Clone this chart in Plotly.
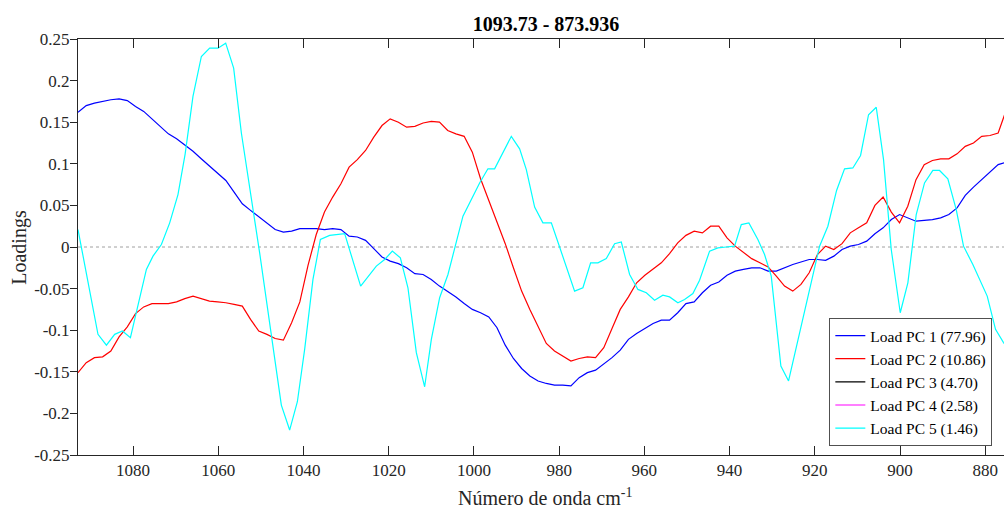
import numpy as np
import plotly.graph_objects as go

# Wavenumber axis of the loading vectors (cm^-1), high to low
wn_start = 1092.91
wn_step = 1.928
n_points = 114
wavenumber = np.round(wn_start - wn_step * np.arange(n_points), 2)

load_pc1 = [
    0.162, 0.170, 0.173, 0.175, 0.177, 0.178, 0.176, 0.169, 0.163, 0.154,
    0.145, 0.136, 0.130, 0.123, 0.115, 0.106, 0.097, 0.089, 0.080, 0.066,
    0.052, 0.044, 0.036, 0.029, 0.021, 0.018, 0.019, 0.022, 0.022, 0.022,
    0.021, 0.022, 0.021, 0.013, 0.012, 0.008, -0.002, -0.012, -0.017, -0.020,
    -0.025, -0.032, -0.033, -0.039, -0.047, -0.053, -0.060, -0.068, -0.075, -0.079,
    -0.084, -0.097, -0.118, -0.134, -0.146, -0.155, -0.161, -0.164, -0.166, -0.166,
    -0.167, -0.157, -0.151, -0.148, -0.141, -0.133, -0.124, -0.111, -0.104, -0.098,
    -0.092, -0.088, -0.088, -0.079, -0.068, -0.066, -0.055, -0.046, -0.042, -0.034,
    -0.029, -0.027, -0.025, -0.025, -0.029, -0.029, -0.025, -0.021, -0.018, -0.015,
    -0.015, -0.016, -0.011, -0.003, 0.001, 0.003, 0.007, 0.016, 0.023, 0.033,
    0.039, 0.035, 0.031, 0.032, 0.033, 0.035, 0.039, 0.047, 0.062, 0.072,
    0.081, 0.090, 0.099, 0.102,
]

load_pc2 = [
    -0.151, -0.139, -0.133, -0.132, -0.125, -0.108, -0.096, -0.080, -0.072, -0.068,
    -0.068, -0.068, -0.066, -0.062, -0.059, -0.062, -0.065, -0.066, -0.067, -0.069,
    -0.071, -0.087, -0.101, -0.105, -0.110, -0.112, -0.091, -0.066, -0.022, 0.015,
    0.042, 0.060, 0.076, 0.096, 0.105, 0.116, 0.132, 0.146, 0.154, 0.150,
    0.144, 0.145, 0.149, 0.151, 0.150, 0.140, 0.136, 0.133, 0.114, 0.082,
    0.056, 0.029, 0.004, -0.025, -0.053, -0.075, -0.096, -0.116, -0.125, -0.131,
    -0.137, -0.134, -0.132, -0.133, -0.121, -0.098, -0.075, -0.060, -0.043, -0.034,
    -0.026, -0.019, -0.008, 0.005, 0.014, 0.019, 0.017, 0.025, 0.025, 0.011,
    0.001, -0.007, -0.014, -0.019, -0.024, -0.035, -0.047, -0.053, -0.045, -0.031,
    -0.009, 0.001, -0.003, 0.004, 0.017, 0.023, 0.029, 0.050, 0.060, 0.042,
    0.029, 0.049, 0.081, 0.099, 0.104, 0.106, 0.106, 0.112, 0.121, 0.125,
    0.133, 0.134, 0.137, 0.165,
]

# PC 3 and PC 4 carry no drawn values in this window
load_pc3 = [None]
load_pc4 = [None]

# PC 5 is sharper: its vertices are listed with their own wavenumbers
wn_pc5 = [
    1092.91, 1088.22, 1086.24, 1084.30, 1082.49, 1080.61, 1076.86, 1075.31, 1073.34, 1071.39,
    1069.45, 1067.76, 1065.93, 1063.96, 1062.01, 1060.06, 1058.25, 1056.38, 1054.57, 1052.62,
    1050.28, 1047.70, 1045.19, 1043.24, 1041.43, 1039.72, 1037.77, 1036.03, 1033.85, 1030.33,
    1026.58, 1022.90, 1020.95, 1019.14, 1017.26, 1015.48, 1013.51, 1011.56, 1009.99, 1008.04,
    1006.09, 1002.57, 1000.53, 998.66, 996.71, 995.14, 991.22, 989.27, 987.70, 985.75,
    983.81, 981.83, 979.89, 976.37, 974.42, 972.61, 970.90, 968.93, 966.98, 965.41,
    963.46, 961.51, 959.54, 957.60, 955.65, 954.08, 952.13, 950.56, 948.61, 947.04,
    944.69, 942.74, 940.77, 938.83, 937.25, 935.47, 933.36, 931.79, 930.22, 927.96,
    926.16, 924.21, 921.86, 918.88, 916.93, 914.89, 913.02, 911.07, 909.26, 907.39,
    905.58, 903.87, 902.06, 899.95, 898.16, 896.20, 894.25, 892.30, 890.73, 888.78,
    886.81, 885.10, 882.91, 880.94, 879.54, 877.59, 875.71, 874.07,
]
load_pc5 = [
    0.021, -0.105, -0.118, -0.105, -0.101, -0.109, -0.027, -0.011, 0.003, 0.029,
    0.063, 0.112, 0.181, 0.229, 0.239, 0.239, 0.245, 0.215, 0.137, 0.073,
    -0.007, -0.100, -0.190, -0.220, -0.186, -0.123, -0.039, 0.009, 0.014, 0.016,
    -0.047, -0.023, -0.015, -0.005, -0.013, -0.049, -0.127, -0.168, -0.111, -0.061,
    -0.033, 0.037, 0.058, 0.077, 0.094, 0.094, 0.133, 0.118, 0.093, 0.048,
    0.029, 0.029, 0.000, -0.053, -0.049, -0.019, -0.019, -0.014, 0.004, 0.006,
    -0.033, -0.051, -0.055, -0.064, -0.058, -0.060, -0.067, -0.063, -0.056, -0.040,
    -0.005, -0.001, 0.000, 0.001, 0.027, 0.029, 0.009, -0.009, -0.035, -0.143,
    -0.161, -0.117, -0.065, 0.001, 0.025, 0.068, 0.094, 0.095, 0.110, 0.159,
    0.168, 0.105, -0.003, -0.079, -0.043, 0.039, 0.077, 0.092, 0.092, 0.082,
    0.045, 0.001, -0.021, -0.043, -0.059, -0.099, -0.115, -0.125,
]

legend_names = [
    "Load PC 1 (77.96)",
    "Load PC 2 (10.86)",
    "Load PC 3 (4.70)",
    "Load PC 4 (2.58)",
    "Load PC 5 (1.46)",
]
line_colors = ["#0000ff", "#ff0000", "#000000", "#ff00ff", "#00ffff"]

y_ticks = [-0.25, -0.2, -0.15, -0.1, -0.05, 0, 0.05, 0.1, 0.15, 0.2, 0.25]
y_ticktext = ["-0.25", "-0.2", "-0.15", "-0.1", "-0.05", "0",
              "0.05", "0.1", "0.15", "0.2", "0.25"]
x_ticks = [1080, 1060, 1040, 1020, 1000, 980, 960, 940, 920, 900, 880]

FONT = "Liberation Serif, Times New Roman, serif"
AXIS_COLOR = "#262626"

series = [
    (list(wavenumber), load_pc1),
    (list(wavenumber), load_pc2),
    ([wavenumber[0]], load_pc3),
    ([wavenumber[0]], load_pc4),
    (wn_pc5, load_pc5),
]

fig = go.Figure()
for (xs, ys), name, color in zip(series, legend_names, line_colors):
    fig.add_trace(go.Scatter(
        x=xs, y=ys, mode="lines", name=name, showlegend=True,
        line=dict(color=color, width=1.2),
    ))

# dotted zero reference
fig.add_hline(y=0, line=dict(color="#a0a0a0", width=1, dash="dot"), layer="below")

fig.update_layout(
    width=1004, height=508,
    margin=dict(l=78, r=0, t=39, b=53),
    paper_bgcolor="white", plot_bgcolor="white",
    font=dict(family=FONT, color=AXIS_COLOR, size=17),
    showlegend=True,
    legend=dict(
        x=0.9874, y=0.0217, xanchor="right", yanchor="bottom",
        bgcolor="white", bordercolor="#505050", borderwidth=1,
        font=dict(family=FONT, size=15.5, color="#000000"),
        tracegroupgap=0, itemwidth=30,
    ),
    title=dict(
        text="<b>1093.73 - 873.936</b>",
        xref="container", x=546 / 1004, xanchor="center",
        yref="container", y=1 - 24 / 508, yanchor="middle",
        font=dict(family=FONT, size=20, color="#000000"),
    ),
    xaxis=dict(
        range=[1092.91, 875.6], showgrid=False, zeroline=False,
        showline=True, linecolor=AXIS_COLOR, linewidth=1, mirror="ticks",
        ticks="inside", ticklen=9, tickwidth=1, tickcolor=AXIS_COLOR,
        tickvals=x_ticks, tickfont=dict(size=17, color=AXIS_COLOR),
    ),
    yaxis=dict(
        range=[-0.25, 0.25], showgrid=False, zeroline=False,
        showline=True, linecolor=AXIS_COLOR, linewidth=1, mirror=False,
        ticks="outside", ticklen=7, tickwidth=1, tickcolor=AXIS_COLOR,
        tickvals=y_ticks, ticktext=y_ticktext, ticklabelstandoff=-3,
        tickfont=dict(size=17, color=AXIS_COLOR),
    ),
    annotations=[
        dict(text="Número de onda cm<sup>-1</sup>", xref="paper", yref="paper",
             x=0.504, y=-0.102, xanchor="center", yanchor="middle",
             showarrow=False, font=dict(family=FONT, size=20, color=AXIS_COLOR)),
        dict(text="Loadings", xref="paper", yref="paper",
             x=-0.064, y=0.5, xanchor="center", yanchor="middle", textangle=-90,
             showarrow=False, font=dict(family=FONT, size=20, color=AXIS_COLOR)),
    ],
)

fig.write_html("out.html")
